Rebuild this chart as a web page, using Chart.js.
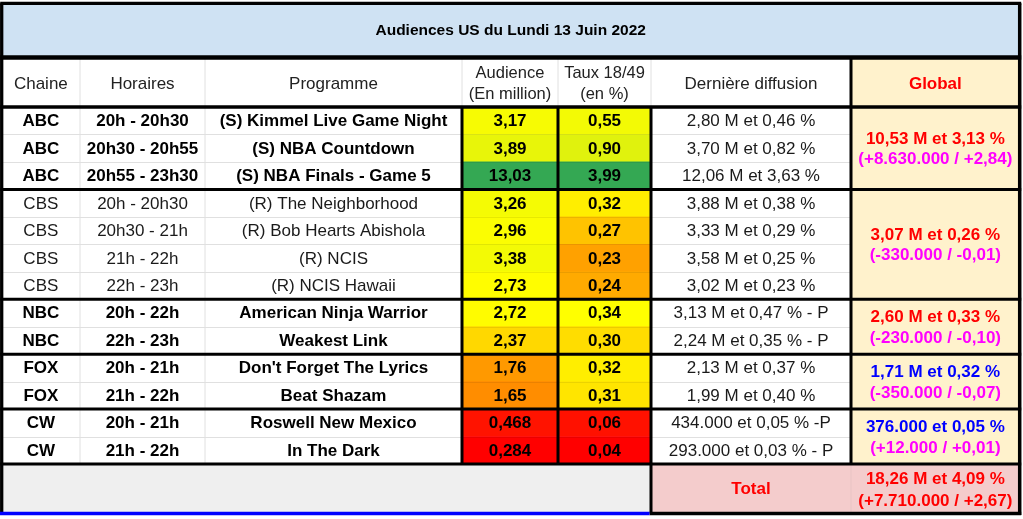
<!DOCTYPE html>
<html>
<head>
<meta charset="utf-8">
<script src="https://cdn.jsdelivr.net/npm/chart.js@4.4.1/dist/chart.umd.min.js"></script>
<style>
html, body { margin: 0; padding: 0; background: #fff; }
#wrap { width: 1023px; height: 519px; }
</style>
</head>
<body>
<div id="wrap"><canvas id="myChart" width="1023" height="519"></canvas></div>
<script>
// donnees du tableau
var titre = 'Audiences US du Lundi 13 Juin 2022';
var entetes = [['Chaine'], ['Horaires'], ['Programme'], ['Audience', '(En million)'], ['Taux 18/49', '(en %)'], ['Dernière diffusion'], ['Global']];
var chaines = ['ABC', 'ABC', 'ABC', 'CBS', 'CBS', 'CBS', 'CBS', 'NBC', 'NBC', 'FOX', 'FOX', 'CW', 'CW'];
var horaires = ['20h - 20h30', '20h30 - 20h55', '20h55 - 23h30', '20h - 20h30', '20h30 - 21h', '21h - 22h', '22h - 23h',
                '20h - 22h', '22h - 23h', '20h - 21h', '21h - 22h', '20h - 21h', '21h - 22h'];
var programmes = ['(S) Kimmel Live Game Night', '(S) NBA Countdown', '(S) NBA Finals - Game 5', '(R) The Neighborhood',
                  '(R) Bob Hearts Abishola', '(R) NCIS', '(R) NCIS Hawaii', 'American Ninja Warrior', 'Weakest Link',
                  "Don't Forget The Lyrics", 'Beat Shazam', 'Roswell New Mexico', 'In The Dark'];
var audiences = [3.17, 3.89, 13.03, 3.26, 2.96, 3.38, 2.73, 2.72, 2.37, 1.76, 1.65, 0.468, 0.284];
var taux = [0.55, 0.90, 3.99, 0.32, 0.27, 0.23, 0.24, 0.34, 0.30, 0.32, 0.31, 0.06, 0.04];
var dernieres = ['2,80 M et 0,46 %', '3,70 M et 0,82 %', '12,06 M et 3,63 %', '3,88 M et 0,38 %', '3,33 M et 0,29 %',
                 '3,58 M et 0,25 %', '3,02 M et 0,23 %', '3,13 M et 0,47 % - P', '2,24 M et 0,35 % - P',
                 '2,13 M et 0,37 %', '1,99 M et 0,40 %', '434.000 et 0,05 % -P', '293.000 et 0,03 % - P'];
var globalValeurs = ['10,53 M et 3,13 %', '3,07 M et 0,26 %', '2,60 M et 0,33 %', '1,71 M et 0,32 %', '376.000 et 0,05 %'];
var globalEcarts = ['(+8.630.000 / +2,84)', '(-330.000 / -0,01)', '(-230.000 / -0,10)', '(-350.000 / -0,07)', '(+12.000 / +0,01)'];
var totalLibelle = 'Total';
var totalValeur = '18,26 M et 4,09 %';
var totalEcart = '(+7.710.000 / +2,67)';

// mise en page et styles
var colonnes = [1.7, 80, 205, 462, 558, 651, 851, 1019.7];
var yHaut = 3.3, yTitre = 57.5, yEntete = 107, yTable = 464, yBas = 513.5;
var police = '"Liberation Sans", Arial, sans-serif';
var chainesEnGras = ['ABC', 'NBC', 'FOX', 'CW'];
var couleurGlobal = { ABC: '#ff0000', CBS: '#ff0000', NBC: '#ff0000', FOX: '#0000ff', CW: '#0000ff' };
var milieuAudience = 2.75, milieuTaux = 0.34;

function couleurEchelle(v, valeurs, milieu) {
  var min = Math.min.apply(null, valeurs), max = Math.max.apply(null, valeurs);
  var rouge = [255, 0, 0], jaune = [255, 255, 0], vert = [52, 168, 83];
  var a, b, t;
  if (v <= milieu) { a = rouge; b = jaune; t = (v - min) / (milieu - min); }
  else { a = jaune; b = vert; t = (v - milieu) / (max - milieu); }
  t = Math.max(0, Math.min(1, t));
  return 'rgb(' + a.map(function(c, k) { return Math.round(c + (b[k] - c) * t); }).join(',') + ')';
}
function virgule(v, dec) { return v.toFixed(dec).replace('.', ','); }

// groupes de chaines consecutives
var groupes = [];
chaines.forEach(function(c, i) {
  if (i === 0 || chaines[i - 1] !== c) groupes.push({ chaine: c, debut: i, fin: i });
  else groupes[groupes.length - 1].fin = i;
});

var fonds = [
  chaines.map(function() { return '#ffffff'; }),
  chaines.map(function() { return '#ffffff'; }),
  chaines.map(function() { return '#ffffff'; }),
  audiences.map(function(v) { return couleurEchelle(v, audiences, milieuAudience); }),
  taux.map(function(v) { return couleurEchelle(v, taux, milieuTaux); }),
  chaines.map(function() { return '#ffffff'; }),
  chaines.map(function() { return '#fff2cc'; })
];

var datasets = [];
for (var c = 0; c < 7; c++) {
  datasets.push({
    data: chaines.map(function() { return [colonnes[c], colonnes[c + 1]]; }),
    backgroundColor: fonds[c],
    grouped: false,
    barPercentage: 1,
    categoryPercentage: 1,
    borderWidth: 0,
    borderSkipped: false
  });
}

var tableau = {
  id: 'tableau',
  afterDatasetsDraw: function(chart) {
    var ctx = chart.ctx, xs = chart.scales.x, ys = chart.scales.y;
    var h = ys.getPixelForValue(1) - ys.getPixelForValue(0);
    function X(k) { return xs.getPixelForValue(colonnes[k]); }
    function bord(i) { return ys.getPixelForValue(i) - h / 2; }
    function trait(x1, y1, x2, y2, w, col) {
      ctx.beginPath(); ctx.lineWidth = w; ctx.strokeStyle = col;
      ctx.moveTo(x1, y1); ctx.lineTo(x2, y2); ctx.stroke();
    }
    function texte(s, x, y, gras, taille, col) {
      ctx.font = (gras ? 'bold ' : '') + taille + 'px ' + police;
      ctx.fillStyle = col; ctx.textAlign = 'center'; ctx.textBaseline = 'middle';
      ctx.fillText(s, x, y);
    }
    var yT = bord(0), yB = bord(chaines.length);
    ctx.save();

    // fonds titre, entete, pied
    ctx.fillStyle = '#cfe2f3'; ctx.fillRect(X(0), yHaut, X(7) - X(0), yTitre - yHaut);
    ctx.fillStyle = '#ffffff'; ctx.fillRect(X(0), yTitre, X(6) - X(0), yT - yTitre);
    ctx.fillStyle = '#fff2cc'; ctx.fillRect(X(6), yTitre, X(7) - X(6), yT - yTitre);
    ctx.fillStyle = '#efefef'; ctx.fillRect(X(0), yB, X(5) - X(0), yBas - yB);
    ctx.fillStyle = '#f4cccc'; ctx.fillRect(X(5), yB, X(7) - X(5), yBas - yB);

    // lignes fines
    [1, 2].forEach(function(k) { trait(X(k), yTitre, X(k), yB, 1, '#e0e0e0'); });
    [3, 4, 5].forEach(function(k) { trait(X(k), yTitre, X(k), yT, 1, '#e0e0e0'); });
    trait(X(6), yB, X(6), yBas, 1, '#e8c4c4');
    groupes.forEach(function(g) {
      for (var i = g.debut + 1; i <= g.fin; i++) {
        var y = Math.round(bord(i)) + 0.5;
        trait(X(0), y, X(3), y, 1, '#e0e0e0');
        trait(X(3), y, X(5), y, 1, 'rgba(0,0,0,0.08)');
        trait(X(5), y, X(6), y, 1, '#e0e0e0');
      }
    });

    // lignes epaisses
    var noir = '#000000';
    trait(X(0) - 1.5, yHaut, X(7) + 1.5, yHaut, 3.3, noir);
    trait(X(0) - 1.5, yTitre, X(7) + 1.5, yTitre, 4.5, noir);
    trait(X(0) - 1.5, yT, X(7) + 1.5, yT, 3.3, noir);
    groupes.forEach(function(g) {
      var y = bord(g.fin + 1);
      trait(X(0) - 1.5, y, X(7) + 1.5, y, 3, noir);
    });
    trait(X(3), yT, X(3), yB, 3, noir);
    trait(X(4), yT, X(4), yB, 3, noir);
    trait(X(5), yT, X(5), yBas, 3, noir);
    trait(X(6), yTitre, X(6), yB, 3, noir);
    trait(X(0), yHaut, X(0), yBas - 1.5, 3.3, noir);
    trait(X(7), yHaut, X(7), yBas + 1.5, 3.5, noir);
    trait(X(5) - 1.5, yBas, X(7) + 1.5, yBas, 3.3, noir);
    trait(0, yBas, X(5) - 1.5, yBas, 3.5, '#0000ff');

    // titre et entetes
    texte(titre, (X(0) + X(7)) / 2, 31, true, 15.5, '#000000');
    entetes.forEach(function(e, k) {
      var cx = (X(k) + X(k + 1)) / 2, cy = (yTitre + yT) / 2 + 1.5;
      var rouge = k === 6;
      if (e.length === 1) texte(e[0], cx, cy + 0.5, rouge, 17, rouge ? '#ff0000' : '#222222');
      else { texte(e[0], cx, cy - 10, false, 16.5, '#222222'); texte(e[1], cx, cy + 10.5, false, 16.5, '#222222'); }
    });

    // lignes de donnees
    chaines.forEach(function(ch, i) {
      var cy = ys.getPixelForValue(i) + 0.8;
      var gras = chainesEnGras.indexOf(ch) >= 0;
      var col = gras ? '#000000' : '#1a1a1a';
      texte(ch, (X(0) + X(1)) / 2, cy, gras, 17, col);
      texte(horaires[i], (X(1) + X(2)) / 2, cy, gras, 17, col);
      texte(programmes[i], (X(2) + X(3)) / 2, cy, gras, 17, col);
      texte(virgule(audiences[i], audiences[i] < 1 ? 3 : 2), (X(3) + X(4)) / 2, cy, true, 17, '#000000');
      texte(virgule(taux[i], 2), (X(4) + X(5)) / 2, cy, true, 17, '#000000');
      texte(dernieres[i], (X(5) + X(6)) / 2, cy, false, 17, '#1a1a1a');
    });

    // cellules fusionnees Global
    groupes.forEach(function(g, j) {
      var cy = (bord(g.debut) + bord(g.fin + 1)) / 2;
      var cx = (X(6) + X(7)) / 2;
      texte(globalValeurs[j], cx, cy - 9, true, 17, couleurGlobal[g.chaine]);
      texte(globalEcarts[j], cx, cy + 11.5, true, 17, '#ff00ff');
    });

    // total
    var cyT = (yB + yBas) / 2;
    texte(totalLibelle, (X(5) + X(6)) / 2, cyT + 0.5, true, 17, '#ff0000');
    texte(totalValeur, (X(6) + X(7)) / 2, cyT - 9.5, true, 17, '#ff0000');
    texte(totalEcart, (X(6) + X(7)) / 2, cyT + 12.5, true, 17, '#ff0000');
    ctx.restore();
  }
};

var graph = new Chart(document.getElementById('myChart'), {
  type: 'bar',
  data: { labels: programmes, datasets: datasets },
  options: {
    indexAxis: 'y',
    responsive: false,
    animation: false,
    devicePixelRatio: 1,
    layout: { padding: { top: yEntete, bottom: 519 - yTable, left: 0, right: 0 } },
    plugins: { legend: { display: false }, tooltip: { enabled: false }, title: { display: false } },
    scales: {
      x: { type: 'linear', min: 0, max: 1023, display: false },
      y: { type: 'category', display: false, offset: true }
    }
  },
  plugins: [tableau]
});
</script>
</body>
</html>
